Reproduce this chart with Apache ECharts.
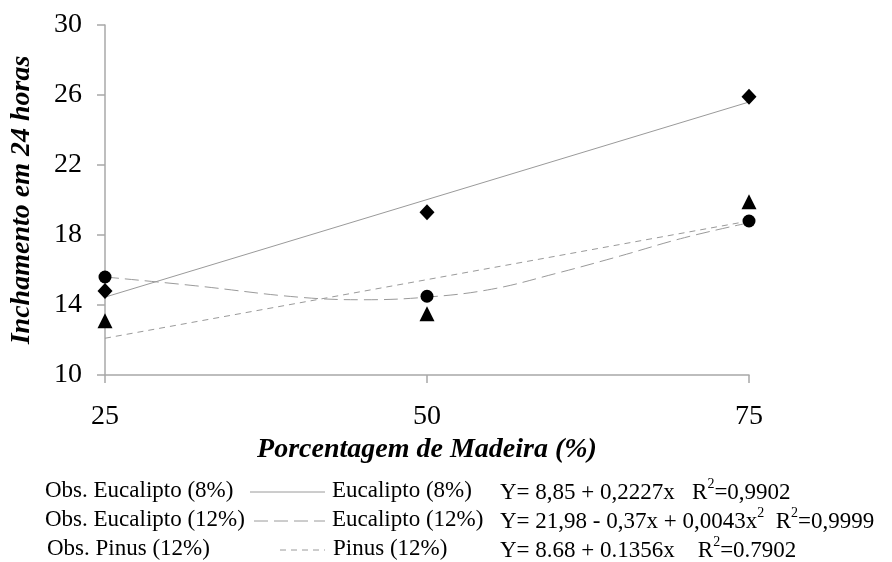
<!DOCTYPE html>
<html>
<head>
<meta charset="utf-8">
<script src="https://cdn.jsdelivr.net/npm/echarts@6/dist/echarts.min.js"></script>
<style>html,body{margin:0;padding:0;background:#fff}#c{width:892px;height:562px}</style>
</head>
<body>
<div id="c"></div>
<script>
// ---- data ----
var xPct = [25, 50, 75];
var obsEuc8 = [14.8, 19.3, 25.9];
var obsEuc12 = [15.6, 14.5, 18.8];
var obsPinus = [13.1, 13.5, 19.9];
var fitLinX = [25, 75];
var fitEuc8 = [14.45, 25.6];
var fitPinus = [12.1, 18.8];
var curveX = [25, 32, 40, 45, 50, 55, 60, 65, 70, 75];
var fitEuc12 = [15.6, 15.1, 14.45, 14.3, 14.45, 14.9, 15.8, 16.8, 17.85, 18.7];
var yTicks = [10, 14, 18, 22, 26, 30];
var xTicks = [25, 50, 75];

function pairs(xs, ys) { return xs.map(function (x, i) { return [x, ys[i]]; }); }

var FONT = "'Liberation Serif','Times New Roman',serif";
var GREY = '#9a9a9a';
var AXIS = '#a8a8a8';

var chart = echarts.init(document.getElementById('c'));

var legendRows = [
  { y: 492, obs: 'Obs. Eucalipto (8%)', obsX: 45, lx1: 250, lx2: 325, dash: null, fit: 'Eucalipto (8%)', fitX: 332,
    eq: '{n|Y= 8,85 + 0,2227x   R}{s|2}{n|=0,9902}' },
  { y: 521, obs: 'Obs. Eucalipto (12%)', obsX: 45, lx1: 254, lx2: 325, dash: [14, 6], fit: 'Eucalipto (12%)', fitX: 332,
    eq: '{n|Y= 21,98 - 0,37x + 0,0043x}{s|2}{n|  R}{s|2}{n|=0,9999}' },
  { y: 550, obs: 'Obs. Pinus (12%)', obsX: 47, lx1: 280, lx2: 325, dash: [6, 5], fit: 'Pinus (12%)', fitX: 333,
    eq: '{n|Y= 8.68 + 0.1356x    R}{s|2}{n|=0.7902}' }
];

var graphics = [];
legendRows.forEach(function (r) {
  graphics.push({ type: 'text', left: r.obsX, top: r.y - 13, style: { text: r.obs, font: '23px ' + FONT, fill: '#000' } });
  graphics.push({ type: 'line', shape: { x1: r.lx1, y1: r.y, x2: r.lx2, y2: r.y },
    style: { stroke: GREY, lineWidth: 1, lineDash: r.dash || null } });
  graphics.push({ type: 'text', left: r.fitX, top: r.y - 13, style: { text: r.fit, font: '23px ' + FONT, fill: '#000' } });
  graphics.push({ type: 'text', left: 500, top: r.y - 15, style: {
    text: r.eq,
    rich: {
      n: { fontSize: 23, fontFamily: FONT, fill: '#000', lineHeight: 27, verticalAlign: 'bottom' },
      s: { fontSize: 14, fontFamily: FONT, fill: '#000', lineHeight: 27, verticalAlign: 'top', padding: [0, 0, 12, 0] }
    }
  } });
});

var option = {
  animation: false,
  backgroundColor: '#fff',
  grid: { left: 105, right: 143, top: 25, bottom: 187 },
  xAxis: {
    type: 'value', min: 25, max: 75, interval: 25,
    name: 'Porcentagem de Madeira (%)', nameLocation: 'middle', nameGap: 54,
    nameTextStyle: { fontFamily: FONT, fontSize: 28, fontWeight: 'bold', fontStyle: 'italic', color: '#000' },
    axisLine: { show: true, lineStyle: { color: AXIS, width: 1.5 } },
    axisTick: { show: true, length: 8, lineStyle: { color: AXIS, width: 1.5 } },
    axisLabel: { fontFamily: FONT, fontSize: 28, color: '#000', margin: 28,
      formatter: function (v) { return xTicks.indexOf(v) >= 0 ? String(v) : ''; } },
    splitLine: { show: false }
  },
  yAxis: {
    type: 'value', min: 10, max: 30, interval: 4,
    name: 'Inchamento em 24 horas', nameLocation: 'middle', nameGap: 69,
    nameTextStyle: { fontFamily: FONT, fontSize: 28, fontWeight: 'bold', fontStyle: 'italic', color: '#000' },
    axisLine: { show: true, lineStyle: { color: AXIS, width: 1.5 } },
    axisTick: { show: true, length: 8, lineStyle: { color: AXIS, width: 1.5 } },
    axisLabel: { fontFamily: FONT, fontSize: 28, color: '#000', margin: 23,
      formatter: function (v) { return yTicks.indexOf(v) >= 0 ? String(v) : ''; } },
    splitLine: { show: false }
  },
  series: [
    { name: 'Eucalipto (8%)', type: 'line', data: pairs(fitLinX, fitEuc8), symbol: 'none',
      lineStyle: { color: GREY, width: 1, type: 'solid' }, z: 2 },
    { name: 'Eucalipto (12%)', type: 'line', data: pairs(curveX, fitEuc12), symbol: 'none', smooth: 0.4,
      lineStyle: { color: GREY, width: 1, type: [14, 6] }, z: 2 },
    { name: 'Pinus (12%)', type: 'line', data: pairs(fitLinX, fitPinus), symbol: 'none',
      lineStyle: { color: GREY, width: 1, type: [6, 5] }, z: 2 },
    { name: 'Obs. Eucalipto (8%)', type: 'scatter', data: pairs(xPct, obsEuc8), symbol: 'diamond', symbolSize: [15, 16],
      itemStyle: { color: '#000', opacity: 1 }, z: 5 },
    { name: 'Obs. Eucalipto (12%)', type: 'scatter', data: pairs(xPct, obsEuc12), symbol: 'circle', symbolSize: 13,
      itemStyle: { color: '#000', opacity: 1 }, z: 5 },
    { name: 'Obs. Pinus (12%)', type: 'scatter', data: pairs(xPct, obsPinus), symbol: 'triangle', symbolSize: [15, 15],
      itemStyle: { color: '#000', opacity: 1 }, z: 5 }
  ],
  graphic: graphics
};
chart.setOption(option);
</script>
</body>
</html>
